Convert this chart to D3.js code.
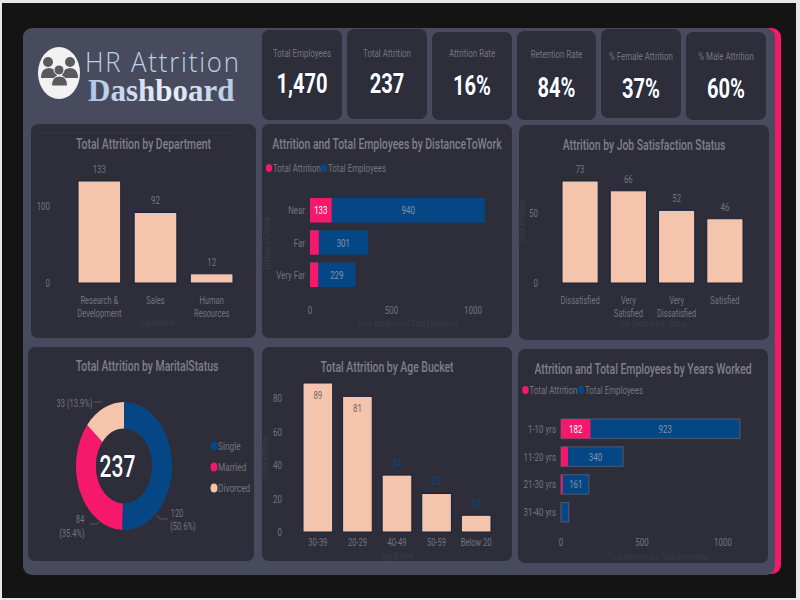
<!DOCTYPE html>
<html>
<head>
<meta charset="utf-8">
<script src="https://cdn.jsdelivr.net/npm/d3@7/dist/d3.min.js"></script>
<style>
html, body { margin: 0; padding: 0; background: #e8e8e8; overflow: hidden; }
svg { display: block; }
text { font-family: "Roboto", sans-serif; }
</style>
</head>
<body>
<div id="chart"></div>
<script>
const peach = "#f5c4ac";
const pink = "#f5186b";
const navy = "#054785";
const cardFill = "#2d2e3a";
const titleColor = "#7f8086";
const tickColor = "#74757c";
const axisTitleColor = "#3b3c47";

const kpiLabels = ["Total Employees", "Total Attrition", "Attrition Rate", "Retention Rate", "% Female Attrition", "% Male Attrition"];
const kpiValues = ["1,470", "237", "16%", "84%", "37%", "60%"];

const departments = ["Research & Development", "Sales", "Human Resources"];
const departmentAttrition = [133, 92, 12];

const distances = ["Near", "Far", "Very Far"];
const distanceAttrition = [133, 54, 50];
const distanceEmployees = [940, 301, 229];

const satisfaction = ["Dissatisfied", "Very Satisfied", "Very Dissatisfied", "Satisfied"];
const satisfactionAttrition = [73, 66, 52, 46];

const maritalStatus = ["Single", "Married", "Divorced"];
const maritalAttrition = [120, 84, 33];
const maritalLabels = ["120 (50.6%)", "84 (35.4%)", "33 (13.9%)"];

const ageBuckets = ["30-39", "20-29", "40-49", "50-59", "Below 20"];
const ageAttrition = [89, 81, 34, 23, 10];

const yearsWorked = ["1-10 yrs", "11-20 yrs", "21-30 yrs", "31-40 yrs"];
const yearsAttrition = [182, 43, 11, 1];
const yearsEmployees = [923, 340, 161, 46];

const svg = d3.select("#chart").append("svg").attr("width", 800).attr("height", 600);

// all text in the reference is squeezed sideways, so labels go through a scaleX
function label(g, str, x, y, size, color, opts = {}) {
  const sx = opts.sx || 0.72;
  const t = g.append("text")
    .attr("transform", `translate(${x},${y}) scale(${sx},1)`)
    .attr("text-anchor", opts.anchor || "middle")
    .attr("font-size", size)
    .attr("font-weight", opts.weight || 400)
    .attr("fill", color)
    .text(str);
  if (opts.stroke) {
    t.attr("stroke", opts.stroke).attr("stroke-width", opts.strokeWidth || 1).attr("paint-order", "stroke");
  }
  return t;
}

function card(x0, y0, x1, y1) {
  svg.append("rect").attr("x", x0).attr("y", y0).attr("width", x1 - x0).attr("height", y1 - y0)
    .attr("rx", 7).attr("fill", cardFill);
}

// backdrop
svg.append("rect").attr("x", 2).attr("y", 3).attr("width", 794).attr("height", 595).attr("fill", "#141414");
svg.append("rect").attr("x", 40).attr("y", 28).attr("width", 741).attr("height", 546).attr("rx", 9).attr("fill", pink);
svg.append("rect").attr("x", 23).attr("y", 28).attr("width", 752).attr("height", 547).attr("rx", 9).attr("fill", "#484b5d");

// header logo
const logoDark = "#5a5a5e";
const logoLight = "#f2f2f2";
const shoulders = (cx, top, w, h) => `M${cx - w},${top + h} Q${cx - w},${top} ${cx},${top} Q${cx + w},${top} ${cx + w},${top + h} Z`;
const logo = svg.append("g");
logo.append("ellipse").attr("cx", 59).attr("cy", 73).attr("rx", 21).attr("ry", 26).attr("fill", logoLight);
[[48, 62], [70, 62]].forEach(([cx, cy]) => {
  logo.append("circle").attr("cx", cx).attr("cy", cy).attr("r", 5).attr("fill", logoDark);
});
[[49, 68, 8, 10], [70, 68, 8, 10]].forEach(([cx, top, w, h]) => {
  logo.append("path").attr("d", shoulders(cx, top, w, h)).attr("fill", logoDark);
});
logo.append("circle").attr("cx", 59).attr("cy", 70).attr("r", 5).attr("fill", logoDark).attr("stroke", logoLight);
logo.append("path").attr("d", shoulders(59.5, 76, 8, 10)).attr("fill", logoDark).attr("stroke", logoLight);

const defs = svg.append("defs");
const grad = defs.append("linearGradient").attr("id", "dash").attr("gradientUnits", "userSpaceOnUse")
  .attr("x1", 0).attr("x2", 147).attr("y1", 0).attr("y2", 0);
grad.append("stop").attr("offset", "0").attr("stop-color", "#adc6e6");
grad.append("stop").attr("offset", "0.55").attr("stop-color", "#eaf0f7");
grad.append("stop").attr("offset", "1").attr("stop-color", "#b4cae6");
label(svg, "HR Attrition", 85, 72, 28, "#bdd0e7", { anchor: "start", sx: 0.92 })
  .attr("letter-spacing", 2).attr("font-weight", 300).style("font-family", "'Open Sans'");
svg.append("text")
  .attr("transform", "translate(88,101) scale(1,1)")
  .attr("font-size", 31).attr("font-weight", 700).attr("fill", "url(#dash)")
  .style("font-family", "'Liberation Serif'").text("Dashboard");

// KPI cards
const kpiBoxes = [[262, 30, 342, 120], [347, 29, 427, 119], [432, 32, 512, 120], [517, 31, 596, 120], [601, 29, 681, 118], [686, 32, 766, 120]];
const kpiLabelY = [57, 57, 57, 58, 60, 60];
const kpiValueY = [93, 93, 95, 97, 98, 98];
kpiBoxes.forEach((b, i) => {
  card(b[0], b[1], b[2], b[3]);
  const cx = (b[0] + b[2]) / 2;
  label(svg, kpiLabels[i], cx, kpiLabelY[i], 11, tickColor);
  label(svg, kpiValues[i], cx, kpiValueY[i], 28, "#ffffff", { weight: 700, sx: 0.72, stroke: "#16213f", strokeWidth: 1.2 });
});

function wrapped(g, str, x, y, size, color, lineGap = 13) {
  // Power BI style wrap: the first word(s) up top, last word below
  const words = str.split(" ");
  let lines;
  if (words.length === 3) lines = [words[0] + " " + words[1], words[2]];
  else lines = words;
  lines.forEach((l, i) => label(g, l, x, y + i * lineGap, size, color));
}

function chartTitle(box, title) {
  label(svg, title, (box[0] + box[2]) / 2, box[1] + 25, 14, titleColor, { weight: 500, sx: 0.745 });
}

function columnChart(box, title, cats, values, opts) {
  const { x0, x1, base, top, domainMax, ticks, tickX } = opts;
  card(...box);
  const x = d3.scaleBand().domain(cats).range([x0, x1]).paddingInner(opts.inner);
  const y = d3.scaleLinear().domain([0, domainMax]).range([base, top]);
  chartTitle(box, title);

  svg.append("g").selectAll("rect").data(cats).join("rect")
    .attr("x", (d) => x(d)).attr("width", x.bandwidth())
    .attr("y", (d, i) => y(values[i])).attr("height", (d, i) => base - y(values[i]))
    .attr("fill", peach).attr("stroke", "#16213a").attr("stroke-width", 1);

  const labels = svg.append("g");
  cats.forEach((c, i) => {
    const cx = x(c) + x.bandwidth() / 2;
    if (opts.labelColor && opts.labelInside && opts.labelInside[i]) {
      label(labels, values[i], cx, y(values[i]) + 16, 11, "#6d6a70");
    } else {
      label(labels, values[i], cx, y(values[i]) - 8, 11, opts.labelColor || tickColor);
    }
    if (opts.noWrap) label(labels, c, cx, opts.catY, 10.5, tickColor);
    else wrapped(labels, c, cx, opts.catY, 10.5, tickColor);
  });
  ticks.forEach((t) => label(labels, t, tickX, y(t) + 4, 11, tickColor, { anchor: "end" }));
  label(labels, opts.xTitle, opts.xTitleX, opts.xTitleY, 9, axisTitleColor);
  if (opts.yTitle) {
    labels.append("text").attr("transform", `translate(${opts.yTitleX},${opts.yTitleY}) rotate(-90) scale(0.8,1)`)
      .attr("text-anchor", "middle").attr("font-size", 9).attr("fill", axisTitleColor).text(opts.yTitle);
  }
}

function stackedChart(box, title, cats, attrition, employees, opts) {
  card(...box);
  const x = d3.scaleLinear().domain([0, 1000]).range([opts.x0, opts.x1000]);
  const y = d3.scaleBand().domain(cats).range(opts.yRange).paddingInner(opts.inner);
  chartTitle(box, title);

  // legend
  const leg = svg.append("g");
  leg.append("ellipse").attr("cx", opts.legX[0]).attr("cy", opts.legY).attr("rx", 3.2).attr("ry", 4).attr("fill", pink);
  label(leg, "Total Attrition", opts.legX[0] + 4, opts.legY + 3.5, 11, tickColor, { anchor: "start" });
  leg.append("ellipse").attr("cx", opts.legX[1]).attr("cy", opts.legY).attr("rx", 3.2).attr("ry", 4).attr("fill", navy);
  label(leg, "Total Employees", opts.legX[1] + 4, opts.legY + 3.5, 11, tickColor, { anchor: "start" });

  const bars = svg.append("g");
  const stroke = opts.barStroke || "none";
  bars.selectAll("rect.emp").data(cats).join("rect").attr("class", "emp")
    .attr("x", (d) => x(0)).attr("y", (d) => y(d))
    .attr("width", (d, i) => x(attrition[i] + employees[i]) - x(0)).attr("height", y.bandwidth())
    .attr("fill", navy).attr("stroke", stroke).attr("stroke-width", 1.2);
  bars.selectAll("rect.att").data(cats).join("rect").attr("class", "att")
    .attr("x", (d) => x(0)).attr("y", (d) => y(d))
    .attr("width", (d, i) => x(attrition[i]) - x(0)).attr("height", y.bandwidth())
    .attr("fill", pink);

  const labels = svg.append("g");
  cats.forEach((c, i) => {
    const my = y(c) + y.bandwidth() / 2 + 4;
    label(labels, c, x(0) - 5, my, 11, tickColor, { anchor: "end" });
    if (i === 0) label(labels, attrition[i], x(attrition[i] / 2), my, 11, "#ffffff");
    if (opts.showEmployees[i]) label(labels, employees[i], x(attrition[i] + employees[i] / 2), my, 11, "#8291a8");
  });
  [0, 500, 1000].forEach((t) => label(labels, t, x(t), opts.tickY, 11, tickColor));
  label(labels, "Total Attrition and Total Employees", opts.titleX, opts.titleY, 9, axisTitleColor);
  if (opts.yTitle) {
    labels.append("text").attr("transform", `translate(${opts.yTitleX},${opts.yTitleY}) rotate(-90) scale(0.8,1)`)
      .attr("text-anchor", "middle").attr("font-size", 9).attr("fill", axisTitleColor).text(opts.yTitle);
  }
}

columnChart([31, 124, 256, 338], "Total Attrition by Department", departments, departmentAttrition, {
  x0: 78, x1: 233, base: 283, top: 181, domainMax: 133, ticks: [0, 100], tickX: 50, inner: 0.24,
  catY: 304, xTitle: "Department", xTitleX: 157, xTitleY: 326,
});
// faint rule at the top of the first card
svg.append("path").attr("d", d3.line()([[39, 133], [236, 133]])).attr("stroke", "#3f3739").attr("fill", "none");

stackedChart([262, 124, 512, 338], "Attrition and Total Employees by DistanceToWork", distances, distanceAttrition, distanceEmployees, {
  x0: 310, x1000: 473, yRange: [198, 287], inner: 0.24,
  legX: [269, 324], legY: 168, tickY: 314, titleX: 408, titleY: 327,
  showEmployees: [true, true, true], yTitle: "DistanceToWork", yTitleX: 270, yTitleY: 243,
});

columnChart([519, 125, 769, 340], "Attrition by Job Satisfaction Status", satisfaction, satisfactionAttrition, {
  x0: 562, x1: 743, base: 283, top: 181, domainMax: 73, ticks: [0, 50], tickX: 538, inner: 0.25,
  catY: 304, xTitle: "Job Satisfaction Status", xTitleX: 653, xTitleY: 327,
  yTitle: "Total Attrition", yTitleX: 525, yTitleY: 222,
});

columnChart([262, 347, 512, 561], "Total Attrition by Age Bucket", ageBuckets, ageAttrition, {
  x0: 303, x1: 491, base: 532, top: 383, domainMax: 89, ticks: [0, 20, 40, 60, 80], tickX: 282, inner: 0.25,
  catY: 546, noWrap: true, xTitle: "Age Bucket", xTitleX: 397, xTitleY: 559,
  labelColor: navy, labelInside: [true, true, false, false, false],
  yTitle: "Total Attrition", yTitleX: 268, yTitleY: 457,
});

stackedChart([518, 349, 768, 563], "Attrition and Total Employees by Years Worked", yearsWorked, yearsAttrition, yearsEmployees, {
  x0: 561, x1000: 723, yRange: [419, 522], inner: 0.3,
  legX: [525.5, 581], legY: 390, tickY: 546, titleX: 658, titleY: 560,
  showEmployees: [true, true, true, false], barStroke: "#4a5468",
});

// donut is stretched vertically in the reference
card(28, 347, 254, 561);
label(svg, "Total Attrition by MaritalStatus", 147, 371, 14, titleColor, { weight: 500, sx: 0.745 });
const pie = d3.pie().sort(null).value((d) => d)(maritalAttrition);
const arc = d3.arc().innerRadius(37.5).outerRadius(64);
const donut = svg.append("g").attr("transform", "translate(124,466) scale(0.75,1)");
const donutColors = d3.scaleOrdinal().domain(maritalStatus).range([navy, pink, peach]);
donut.selectAll("path").data(pie).join("path")
  .attr("d", arc).attr("fill", (d, i) => donutColors(maritalStatus[i]));
label(svg, "237", 117.5, 477, 31, "#ffffff", { weight: 500, sx: 0.68, stroke: "#16213f", strokeWidth: 1 });

label(svg, "120", 177, 517, 10.5, tickColor);
label(svg, "(50.6%)", 183, 530, 10.5, tickColor);
label(svg, "84", 80, 523, 10.5, tickColor);
label(svg, "(35.4%)", 72, 537, 10.5, tickColor);
label(svg, maritalLabels[2], 74.5, 407, 10.5, tickColor);
const leader = d3.line();
svg.append("path").attr("d", leader([[94, 402], [102, 402]])).attr("stroke", "#55565f").attr("fill", "none");
svg.append("path").attr("d", leader([[157, 515], [160, 519], [168, 519]])).attr("stroke", "#55565f").attr("fill", "none");
svg.append("path").attr("d", leader([[90, 524], [97, 524], [101, 521]])).attr("stroke", "#55565f").attr("fill", "none");

maritalStatus.forEach((m, i) => {
  const cy = 446 + i * 21;
  svg.append("ellipse").attr("cx", 214).attr("cy", cy).attr("rx", 3.5).attr("ry", 4.5).attr("fill", donutColors(m));
  label(svg, m, 218, cy + 4, 11.5, tickColor, { anchor: "start" });
});
</script>
</body>
</html>
